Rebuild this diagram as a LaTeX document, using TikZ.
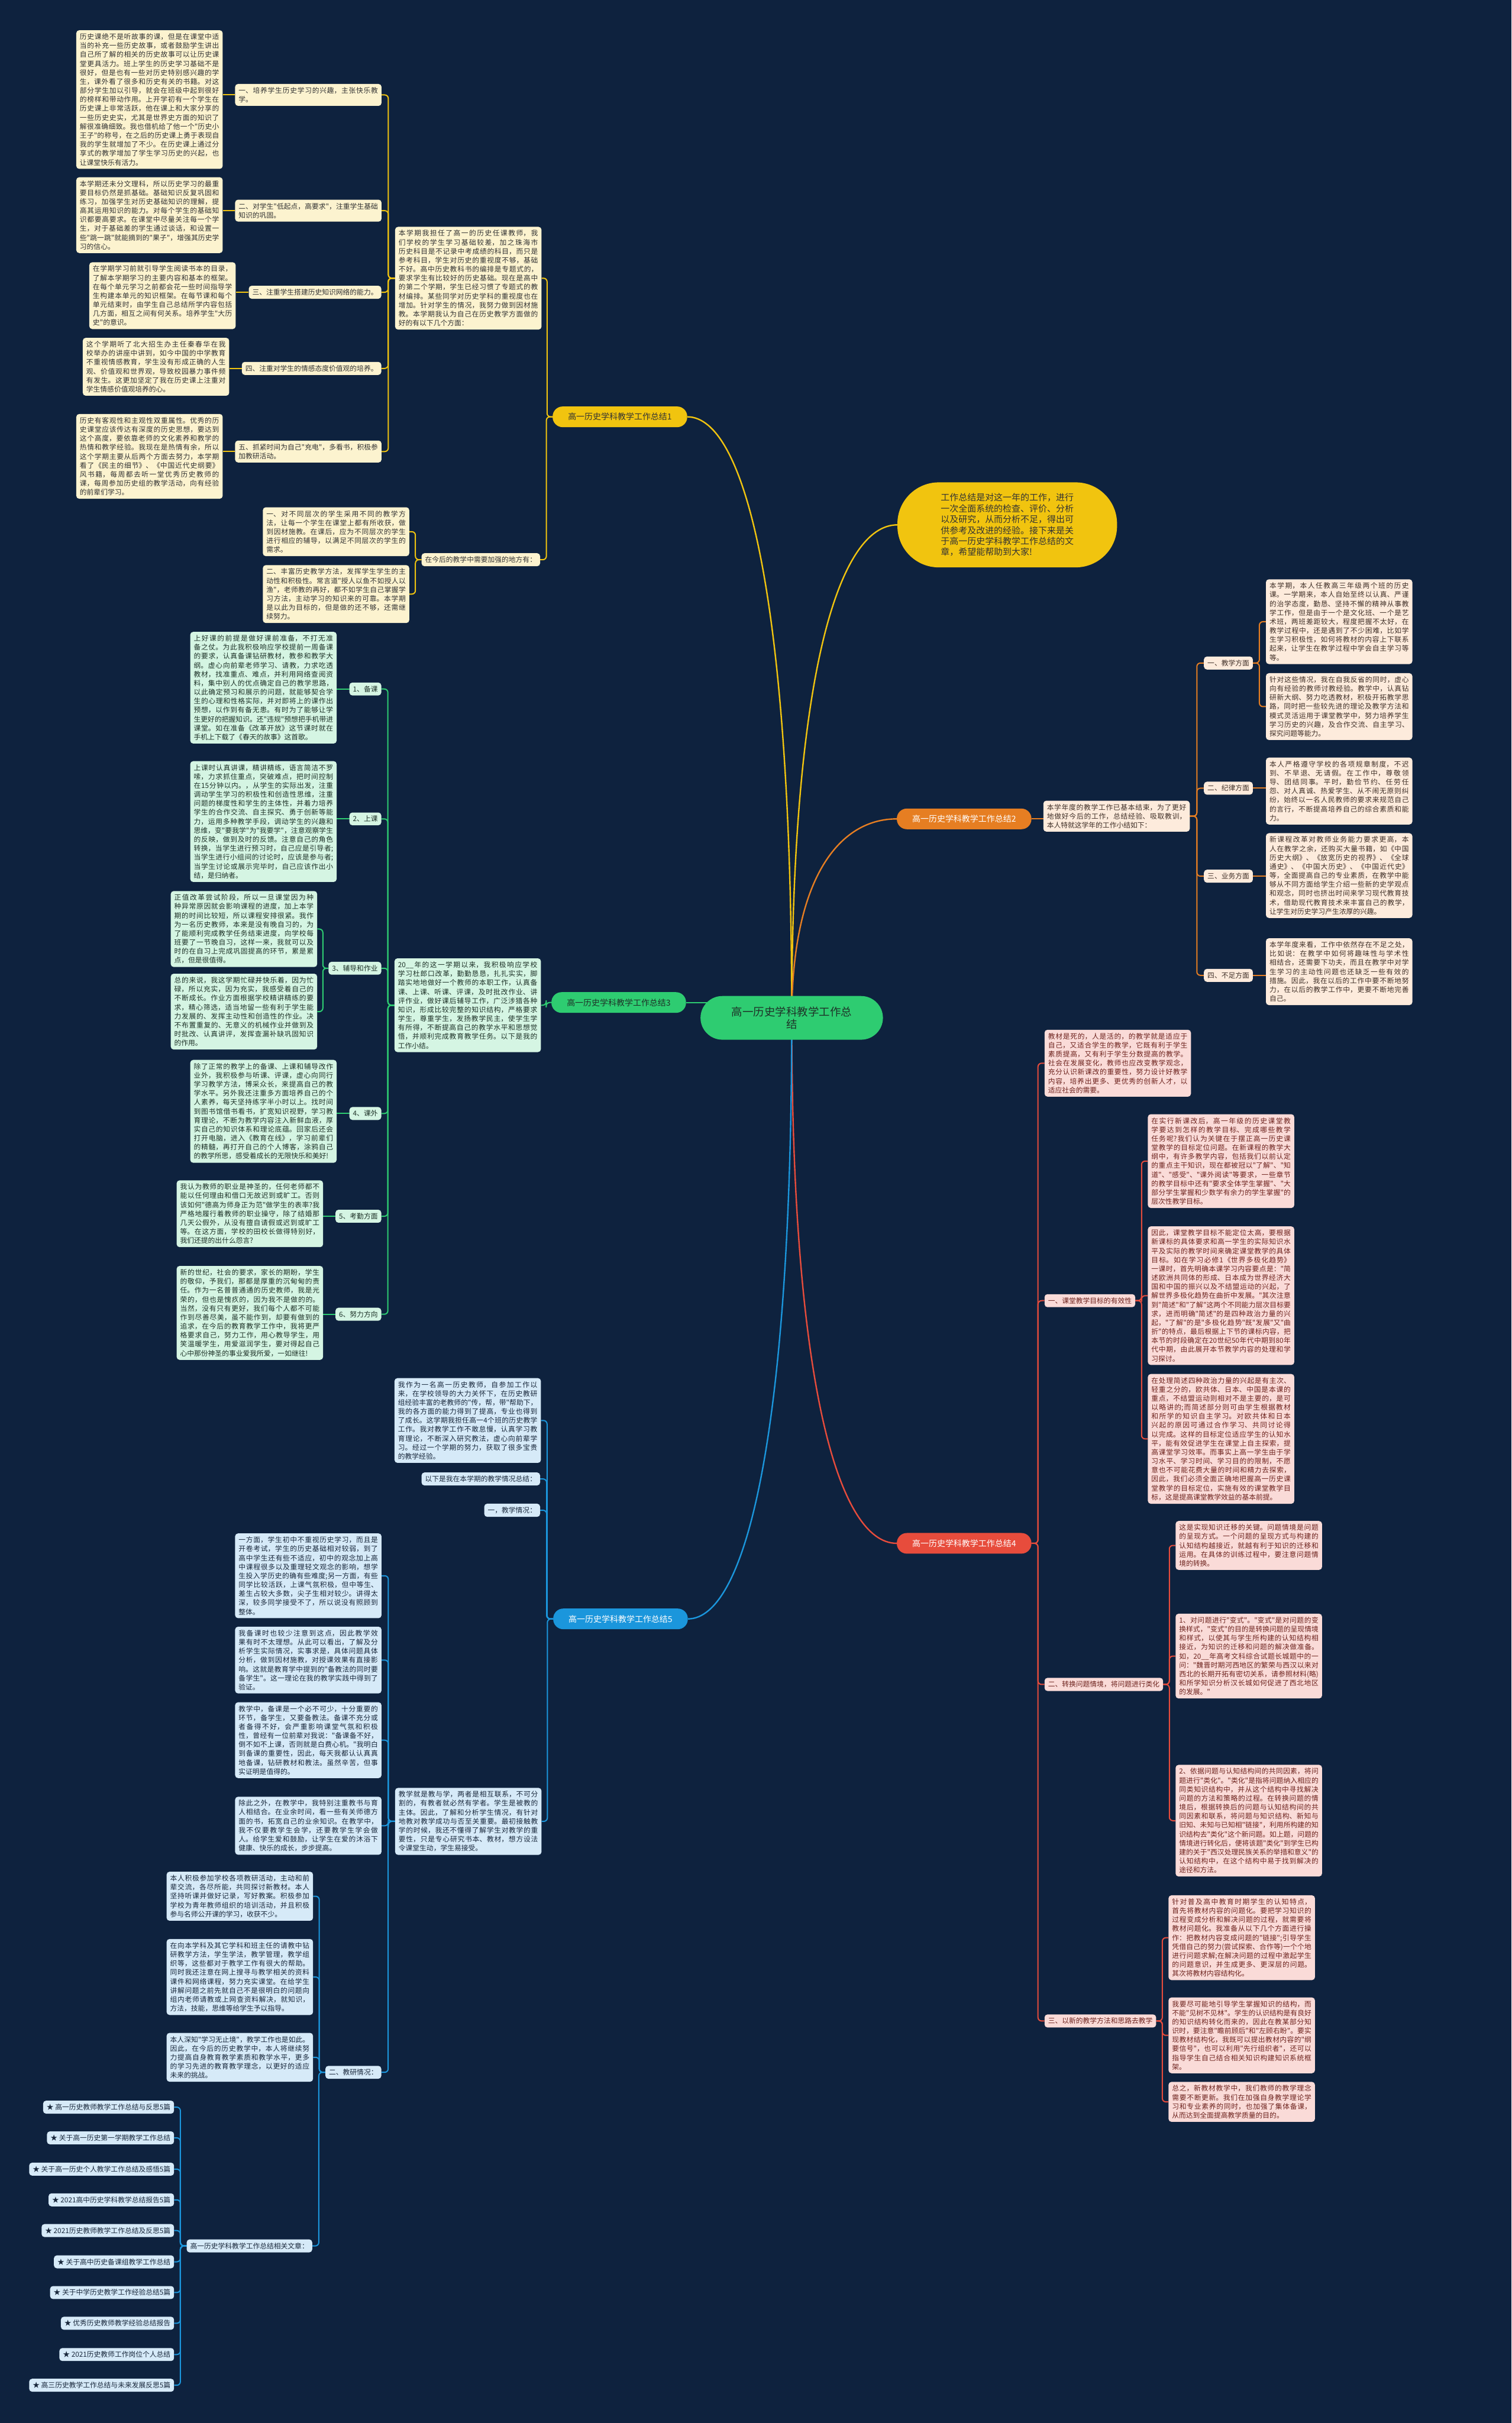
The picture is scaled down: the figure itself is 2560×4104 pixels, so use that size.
\documentclass[tikz,border=0pt]{standalone}
\usepackage{fontspec}
\newfontfamily\cjk{Noto Sans CJK SC}
\usetikzlibrary{calc}
\XeTeXlinebreaklocale "zh"
\XeTeXlinebreakskip=0pt plus 1.5pt
\tolerance=10000
\hbadness=10000
\hfuzz=20pt
\pgfdeclarelayer{bgl}
\pgfdeclarelayer{edges}
\pgfsetlayers{bgl,edges,main}
\definecolor{bgc}{RGB}{14,34,62}
\definecolor{cy}{RGB}{241,196,15}
\definecolor{co}{RGB}{230,126,34}
\definecolor{cg}{RGB}{46,204,113}
\definecolor{cr}{RGB}{231,76,60}
\definecolor{cb}{RGB}{27,150,220}
\definecolor{fy}{RGB}{252,243,207}
\definecolor{fo}{RGB}{253,235,220}
\definecolor{fg}{RGB}{213,245,227}
\definecolor{fr}{RGB}{250,219,216}
\definecolor{fb}{RGB}{214,234,248}
\definecolor{ty}{RGB}{51,51,51}
\definecolor{to}{RGB}{64,48,40}
\definecolor{tg}{RGB}{30,50,40}
\definecolor{tr}{RGB}{110,35,30}
\definecolor{tb}{RGB}{25,40,60}
\tikzset{
  txt/.style={font={\cjk\fontsize{11.8}{15.2}\selectfont}},
  box/.style={txt, rounded corners=5pt, inner xsep=6pt, inner ysep=5.5pt},
  para/.style={box, text width=236pt, align=justify, anchor=north west},
  Y/.style={fill=fy, text=ty},
  O/.style={fill=fo, text=to},
  G/.style={fill=fg, text=tg},
  R/.style={fill=fr, text=tr},
  B/.style={fill=fb, text=tb},
  pill/.style={font={\cjk\fontsize{14}{16}\selectfont}, rounded corners=17pt, minimum width=228pt, minimum height=35pt, inner sep=3pt},
  hub/.style={font={\cjk\fontsize{18.5}{21}\selectfont}, fill=cg, text=tg, rounded corners=37pt, minimum width=309pt, minimum height=74pt, align=center},
  introbox/.style={font={\cjk\fontsize{15}{18.5}\selectfont}, fill=cy, text=ty, rounded corners=70pt, minimum width=372pt, minimum height=144pt, text width=225pt, align=justify},
  eY/.style={draw=cy, line width=2pt, rounded corners=6pt},
  eO/.style={draw=co, line width=2pt, rounded corners=6pt},
  eG/.style={draw=cg, line width=2pt, rounded corners=6pt},
  eR/.style={draw=cr, line width=2pt, rounded corners=6pt},
  eB/.style={draw=cb, line width=2pt, rounded corners=6pt},
  cv/.style={line width=2.4pt}
}
\newcommand\mmlink[3]{\draw[#1] (#2) -| ($(#2)!0.5!(#3)$) |- (#3);}
\newcommand\mmstraight[3]{\draw[#1] (#2) -- (#2 -| #3);}
\newcommand\mmcurve[3]{\coordinate (tmpk) at (#2 |- #3); \draw[#1] (#2) .. controls ($(#2)!0.7!(tmpk)$) and ($(#3)!0.55!(tmpk)$) .. (#3);}
\begin{document}
\begin{tikzpicture}[x=1pt,y=-1pt]
\begin{pgfonlayer}{bgl}
\fill[bgc] (0,0) rectangle (2560,4104);
\end{pgfonlayer}
\useasboundingbox (0,0) rectangle (2560,4104);

% ---------- centre and branches
\node[hub] (c) at (1341,1724) {高一历史学科教学工作总\\结};
\node[introbox] (intro) at (1706,889) {工作总结是对这一年的工作，进行一次全面系统的检查、评价、分析以及研究，从而分析不足，得出可供参考及改进的经验。接下来是关于高一历史学科教学工作总结的文章，希望能帮助到大家!};
\node[pill, fill=cy, text=ty] (b1) at (1050,706) {高一历史学科教学工作总结1};
\node[pill, fill=co, text=white] (b2) at (1633,1387) {高一历史学科教学工作总结2};
\node[pill, fill=cg, text=tg] (b3) at (1048,1698) {高一历史学科教学工作总结3};
\node[pill, fill=cr, text=white] (b4) at (1633,2614) {高一历史学科教学工作总结4};
\node[pill, fill=cb, text=white] (b5) at (1051,2742) {高一历史学科教学工作总结5};

% ---------- branch 1
\node[para,Y] (b1p1) at (129,51) {历史课绝不是听故事的课，但是在课堂中适当的补充一些历史故事，或者鼓励学生讲出自己所了解的相关的历史故事可以让历史课堂更具活力。班上学生的历史学习基础不是很好，但是也有一些对历史特别感兴趣的学生，课外看了很多和历史有关的书籍。对这部分学生加以引导，就会在班级中起到很好的榜样和带动作用。上开学初有一个学生在历史课上非常活跃，他在课上和大家分享的一些历史史实，尤其是世界史方面的知识了解很准确细致。我也借机给了他一个"历史小王子"的称号，在之后的历史课上勇于表现自我的学生就增加了不少。在历史课上通过分享式的教学增加了学生学习历史的兴起，也让课堂快乐有活力。};
\node[para,Y] (b1p2) at (129,300) {本学期还未分文理科，所以历史学习的最重要目标仍然是抓基础。基础知识反复巩固和练习，加强学生对历史基础知识的理解，提高其运用知识的能力。对每个学生的基础知识都要高要求。在课堂中尽量关注每一个学生，对于基础差的学生通过谈话，和设置一些"跳一跳"就能摘到的"果子"，增强其历史学习的信心。};
\node[para,Y] (b1p3) at (151,444) {在学期学习前就引导学生阅读书本的目录，了解本学期学习的主要内容和基本的框架。在每个单元学习之前都会花一些时间指导学生构建本单元的知识框架。在每节课和每个单元结束时，由学生自己总结所学内容包括几方面，相互之间有何关系。培养学生"大历史"的意识。};
\node[para,Y] (b1p4) at (140,572) {这个学期听了北大招生办主任秦春华在我校举办的讲座中讲到，如今中国的中学教育不重视情感教育，学生没有形成正确的人生观、价值观和世界观，导致校园暴力事件频有发生。这更加坚定了我在历史课上注重对学生情感价值观培养的心。};
\node[para,Y] (b1p5) at (129,701) {历史有客观性和主观性双重属性。优秀的历史课堂应该传达有深度的历史思想，要达到这个高度，要依靠老师的文化素养和教学的热情和教学经验。我现在是热情有余，所以这个学期主要从后两个方面去努力，本学期看了《民主的细节》、《中国近代史纲要》风书籍，每周都去听一堂优秀历史教师的课，每周参加历史组的教学活动，向有经验的前辈们学习。};
\node[para,Y] (b1i1) at (398,142) {一、培养学生历史学习的兴趣，主张快乐教学。};
\node[para,Y] (b1i2) at (398,338) {二、对学生"低起点，高要求"，注重学生基础知识的巩固。};
\node[box,Y,anchor=east] (b1i3) at (646,495) {三、注重学生搭建历史知识网络的能力。};
\node[box,Y,anchor=east] (b1i4) at (646,624) {四、注重对学生的情感态度价值观的培养。};
\node[para,Y] (b1i5) at (398,746) {五、抓紧时间为自己"充电"，多看书，积极参加教研活动。};
\node[para,Y] (b1s) at (669,384) {本学期我担任了高一的历史任课教师，我们学校的学生学习基础较差，加之珠海市历史科目是不记录中考成绩的科目，而只是参考科目，学生对历史的重视度不够，基础不好。高中历史教科书的编排是专题式的，要求学生有比较好的历史基础。现在是高中的第二个学期，学生已经习惯了专题式的教材编排。某些同学对历史学科的重视度也在增加。针对学生的情况，我努力做到因材施教。本学期我认为自己在历史教学方面做的好的有以下几个方面：};
\node[box,Y,anchor=east] (b1f) at (915,948) {在今后的教学中需要加强的地方有：};
\node[para,Y] (b1f1) at (445,859) {一、对不同层次的学生采用不同的教学方法，让每一个学生在课堂上都有所收获，做到因材施教。在课后，应为不同层次的学生进行相应的辅导，以满足不同层次的学生的需求。};
\node[para,Y] (b1f2) at (445,957) {二、丰富历史教学方法，发挥学生学生的主动性和积极性。常言道"授人以鱼不如授人以渔"，老师教的再好，都不如学生自己掌握学习方法，主动学习的知识来的可靠。本学期是以此为目标的，但是做的还不够，还需继续努力。};

% ---------- branch 2
\node[para,O] (b2i) at (1767,1356) {本学年度的教学工作已基本结束，为了更好地做好今后的工作，总结经验、吸取教训，本人特就这学年的工作小结如下：};
\node[box,O,anchor=west] (b2l1) at (2039,1123) {一、教学方面};
\node[box,O,anchor=west] (b2l2) at (2039,1335) {二、纪律方面};
\node[box,O,anchor=west] (b2l3) at (2039,1484) {三、业务方面};
\node[box,O,anchor=west] (b2l4) at (2039,1652) {四、不足方面};
\node[para,O] (b2p1) at (2144,981) {本学期，本人任教高三年级两个班的历史课。一学期来，本人自始至终以认真、严谨的治学态度，勤恳、坚持不懈的精神从事教学工作，但是由于一个是文化班、一个是艺术班，两班差距较大，程度把握不太好，在教学过程中，还是遇到了不少困难，比如学生学习积极性，如何将教材的内容上下联系起来，让学生在教学过程中学会自主学习等等。};
\node[para,O] (b2p2) at (2144,1140) {针对这些情况，我在自我反省的同时，虚心向有经验的教师讨教经验。教学中，认真钻研新大纲、努力吃透教材，积极开拓教学思路，同时把一些较先进的理论及教学方法和模式灵活运用于课堂教学中，努力培养学生学习历史的兴趣，及合作交流、自主学习、探究问题等能力。};
\node[para,O] (b2p3) at (2144,1283) {本人严格遵守学校的各项规章制度，不迟到、不早退、无请假。在工作中，尊敬领导、团结同事。平时，勤俭节约、任劳任怨、对人真诚、热爱学生、从不闹无原则纠纷，始终以一名人民教师的要求来规范自己的言行，不断提高培养自己的综合素质和能力。};
\node[para,O] (b2p4) at (2144,1411) {新课程改革对教师业务能力要求更高，本人在教学之余，还购买大量书籍，如《中国历史大纲》、《放宽历史的视界》、《全球通史》、《中国大历史》、《中国近代史》等，全面提高自己的专业素质，在教学中能够从不同方面给学生介绍一些新的史学观点和观念，同时也挤出时间来学习现代教育技术，借助现代教育技术来丰富自己的教学，让学生对历史学习产生浓厚的兴趣。};
\node[para,O] (b2p5) at (2144,1589) {本学年度来看，工作中依然存在不足之处，比如说：在教学中如何将趣味性与学术性相结合，还需要下功夫，而且在教学中对学生学习的主动性问题也还缺乏一些有效的措施。因此，我在以后的工作中要不断地努力，在以后的教学工作中，更要不断地完善自己。};

% ---------- branch 3
\node[para,G] (b3s) at (668,1623) {20\_\_年的这一学期以来，我积极响应学校学习杜郎口改革，勤勤恳恳，扎扎实实，脚踏实地地做好一个教师的本职工作，认真备课、上课、听课、评课，及时批改作业、讲评作业，做好课后辅导工作，广泛涉猎各种知识，形成比较完整的知识结构，严格要求学生，尊重学生，发扬教学民主，使学生学有所得，不断提高自己的教学水平和思想觉悟，并顺利完成教育教学任务。以下是我的工作小结。};
\node[box,G,anchor=east] (b3l1) at (646,1167) {1、备课};
\node[box,G,anchor=east] (b3l2) at (646,1387) {2、上课};
\node[box,G,anchor=east] (b3l3) at (646,1640) {3、辅导和作业};
\node[box,G,anchor=east] (b3l4) at (646,1886) {4、课外};
\node[box,G,anchor=east] (b3l5) at (646,2060) {5、考勤方面};
\node[box,G,anchor=east] (b3l6) at (646,2226) {6、努力方向};
\node[para,G] (b3p1) at (322,1070) {上好课的前提是做好课前准备，不打无准备之仗。为此我积极响应学校提前一周备课的要求，认真备课钻研教材，教参和教学大纲。虚心向前辈老师学习、请教，力求吃透教材，找准重点、难点，并利用网络查阅资料，集中别人的优点确定自己的教学思路，以此确定预习和展示的问题，就能够契合学生的心理和性格实际，并对即将上的课作出预想，以作到有备无患。有时为了能够让学生更好的把握知识。还"违规"预想把手机带进课堂。如在准备《改革开放》这节课时就在手机上下载了《春天的故事》这首歌。};
\node[para,G] (b3p2) at (322,1289) {上课时认真讲课，精讲精练，语言简洁不罗嗦，力求抓住重点，突破难点，把时间控制在15分钟以内。，从学生的实际出发，注重调动学生学习的积极性和创造性思维，注重问题的梯度性和学生的主体性，并着力培养学生的合作交流、自主探究、勇于创新等能力，运用多种教学手段，调动学生的兴趣和思维，变"要我学"为"我要学"，注意观察学生的反映，做到及时的反馈。注意自己的角色转换，当学生进行预习时，自己应是引导者;当学生进行小组间的讨论时，应该是参与者;当学生讨论或展示完毕时，自己应该作出小结，是归纳者。};
\node[para,G] (b3p3) at (289,1509) {正值改革尝试阶段，所以一旦课堂因为种种异常原因就会影响课程的进度，加上本学期的时间比较短，所以课程安排很紧。我作为一名历史教师，本来是没有晚自习的，为了能顺利完成教学任务结束进度，向学校每班要了一节晚自习，这样一来，我就可以及时的在自习上完成巩固提高的环节，累是累点，但是很值得。};
\node[para,G] (b3p4) at (289,1649) {总的来说，我这学期忙碌并快乐着，因为忙碌，所以充实，因为充实，我感受着自己的不断成长。作业方面根据学校精讲精练的要求，精心筛选，适当地留一些有利于学生能力发展的、发挥主动性和创造性的作业。决不布置重复的、无意义的机械作业并做到及时批改、认真讲评，发挥查漏补缺巩固知识的作用。};
\node[para,G] (b3p5) at (322,1795) {除了正常的教学上的备课、上课和辅导改作业外，我积极参与听课、评课，虚心向同行学习教学方法，博采众长，来提高自己的教学水平。另外我还注重多方面培养自己的个人素养，每天坚持练字半小时以上。找时间到图书馆借书看书，扩宽知识视野，学习教育理论，不断为教学内容注入新鲜血液，厚实自己的知识体系和理论底蕴。回家后还会打开电脑，进入《教育在线》，学习前辈们的精髓，再打开自己的个人博客，涂鸦自己的教学所思，感受着成长的无限快乐和美好!};
\node[para,G] (b3p6) at (299,1999) {我认为教师的职业是神圣的，任何老师都不能以任何理由和借口无故迟到或旷工。否则该如何"德高为师身正为范"做学生的表率?我严格地履行着教师的职业操守，除了结婚那几天公假外，从没有擅自请假或迟到或旷工等。在这方面，学校的田校长做得特别好，我们还提的出什么怨言?};
\node[para,G] (b3p7) at (299,2144) {新的世纪，社会的要求，家长的期盼，学生的敬仰，予我们，那都是厚重的沉甸甸的责任。作为一名普普通通的历史教师，我是光荣的，但也是愧疚的，因为我不是做的的。当然，没有只有更好，我们每个人都不可能作到尽善尽美，虽不能作到，却要有做到的追求，在今后的教育教学工作中，我将更严格要求自己，努力工作，用心教导学生，用笑温暖学生，用爱滋润学生，要对得起自己心中那份神圣的事业爱我所爱，一如继往!};

% ---------- branch 4
\node[para,R] (b4p0) at (1769,1744) {教材是死的，人是活的，的教学就是适应于自己，又适合学生的教学，它既有利于学生素质提高，又有利于学生分数提高的教学。社会在发展变化，教师也应改变教学观念，充分认识新课改的重要性，努力设计好教学内容，培养出更多、更优秀的创新人才，以适应社会的需要。};
\node[box,R,anchor=west] (b4l1) at (1769,2203) {一、课堂教学目标的有效性};
\node[para,R] (b4a1) at (1944,1887) {在实行新课改后，高一年级的历史课堂教学要达到怎样的教学目标、完成哪些教学任务呢?我们认为关键在于摆正高一历史课堂教学的目标定位问题。在新课程的教学大纲中，有许多教学内容，包括我们以前认定的重点主干知识，现在都被冠以"了解"、"知道"、"感受"、"课外阅读"等要求，一些章节的教学目标中还有"要求全体学生掌握"、"大部分学生掌握和少数学有余力的学生掌握"的层次性教学目标。};
\node[para,R] (b4a2) at (1944,2077) {因此，课堂教学目标不能定位太高，要根据新课标的具体要求和高一学生的实际知识水平及实际的教学时间来确定课堂教学的具体目标。如在学习必修1《世界多极化趋势》一课时，首先明确本课学习内容要点是："简述欧洲共同体的形成、日本成为世界经济大国和中国的振兴以及不结盟运动的兴起，了解世界多极化趋势在曲折中发展。"其次注意到"简述"和"了解"这两个不同能力层次目标要求，进而明确"简述"的是四种政治力量的兴起，"了解"的是"多极化趋势"既"发展"又"曲折"的特点，最后根据上下节的课标内容，把本节的时段确定在20世纪50年代中期到80年代中期，由此展开本节教学内容的处理和学习探讨。};
\node[para,R] (b4a3) at (1944,2327) {在处理简述四种政治力量的兴起是有主次、轻重之分的，欧共体、日本、中国是本课的重点，不结盟运动则相对不是主要的，是可以略讲的;而简述部分则可由学生根据教材和所学的知识自主学习。对欧共体和日本兴起的原因可通过合作学习、共同讨论得以完成。这样的目标定位适应学生的认知水平，能有效促进学生在课堂上自主探索，提高课堂学习效率。而事实上高一学生由于学习水平、学习时间、学习目的的限制，不愿意也不可能花费大量的时间和精力去探索，因此，我们必须全面正确地把握高一历史课堂教学的目标定位，实施有效的课堂教学目标，这是提高课堂教学效益的基本前提。};
\node[box,R,anchor=west] (b4l2) at (1769,2853) {二、转换问题情境，将问题进行类化};
\node[para,R] (b4b1) at (1991,2576) {这是实现知识迁移的关键。问题情境是问题的呈现方式。一个问题的呈现方式与构建的认知结构越接近，就越有利于知识的迁移和运用。在具体的训练过程中，要注意问题情境的转换。};
\node[para,R] (b4b2) at (1991,2733) {1、对问题进行"变式"。"变式"是对问题的变换样式，"变式"的目的是转换问题的呈现情境和样式，以使其与学生所构建的认知结构相接近，为知识的迁移和问题的解决做准备。如，20\_\_年高考文科综合试题长城题中的一问："魏晋时期河西地区的繁荣与西汉以来对西北的长期开拓有密切关系，请参照材料(略)和所学知识分析汉长城如何促进了西北地区的发展。"};
\node[para,R] (b4b3) at (1991,2989) {2、依据问题与认知结构间的共同因素，将问题进行"类化"。"类化"是指将问题纳入相应的同类知识结构中，并从这个结构中寻找解决问题的方法和策略的过程。在转换问题的情境后，根据转换后的问题与认知结构间的共同因素和联系，将问题与知识结构、新知与旧知、未知与已知相"链接"，利用所构建的知识结构去"类化"这个新问题。如上题，问题的情境进行转化后，便将该题"类化"到学生已构建的关于"西汉处理民族关系的举措和意义"的认知结构中，在这个结构中易于找到解决的途径和方法。};
\node[box,R,anchor=west] (b4l3) at (1769,3423) {三、以新的教学方法和思路去教学};
\node[para,R] (b4c1) at (1979,3210) {针对普及高中教育时期学生的认知特点，首先将教材内容的问题化。要把学习知识的过程变成分析和解决问题的过程，就需要将教材问题化。我准备从以下几个方面进行操作：把教材内容变成问题的"链接";引导学生凭借自己的努力(尝试探索、合作等)一个个地进行问题求解;在解决问题的过程中激起学生的问题意识，并生成更多、更深层的问题。其次将教材内容结构化。};
\node[para,R] (b4c2) at (1979,3383) {我要尽可能地引导学生掌握知识的结构，而不能"见树不见林"。学生的认识结构是有良好的知识结构转化而来的，因此在教某部分知识时，要注意"瞻前顾后"和"左顾右盼"。要实现教材结构化，我既可以提出教材内容的"纲要信号"，也可以利用"先行组织者"，还可以指导学生自己结合相关知识构建知识系统框架。};
\node[para,R] (b4c3) at (1979,3526) {总之，新教材教学中，我们教师的教学理念需要不断更新。我们在加强自身教学理论学习和专业素养的同时，也加强了集体备课，从而达到全面提高教学质量的目的。};

% ---------- branch 5
\node[para,B] (b5p1) at (668,2334) {我作为一名高一历史教师，自参加工作以来，在学校领导的大力关怀下，在历史教研组经验丰富的老教师的"传，帮，带"帮助下，我的各方面的能力得到了提高，专业也得到了成长。这学期我担任高一4个班的历史教学工作。我对教学工作不敢怠慢，认真学习教育理论，不断深入研究教法，虚心向前辈学习。经过一个学期的努力，获取了很多宝贵的教学经验。};
\node[box,B,anchor=east] (b5l1) at (915,2505) {以下是我在本学期的教学情况总结：};
\node[box,B,anchor=east] (b5l2) at (915,2558) {一，教学情况：};
\node[para,B] (b5t) at (669,3028) {教学就是教与学，两者是相互联系，不可分割的，有教者就必然有学者。学生是被教的主体。因此，了解和分析学生情况，有针对地教对教学成功与否至关重要。最初接触教学的时候，我还不懂得了解学生对教学的重要性，只是专心研究书本、教材，想方设法令课堂生动，学生易接受。};
\node[para,B] (b5q1) at (398,2597) {一方面，学生初中不重视历史学习，而且是开卷考试，学生的历史基础相对较弱，到了高中学生还有些不适应，初中的观念加上高中课程很多以及重理轻文观念的影响，想学生投入学历史的确有些难度;另一方面，有些同学比较活跃，上课气氛积极，但中等生、差生占较大多数，尖子生相对较少。讲得太深，较多同学接受不了，所以说没有照顾到整体。};
\node[para,B] (b5q2) at (398,2755) {我备课时也较少注意到这点，因此教学效果有时不太理想。从此可以看出，了解及分析学生实际情况，实事求是，具体问题具体分析，做到因材施教，对授课效果有直接影响。这就是教育学中提到的"备教法的同时要备学生"。这一理论在我的教学实践中得到了验证。};
\node[para,B] (b5q3) at (398,2883) {教学中，备课是一个必不可少，十分重要的环节，备学生，又要备教法。备课不充分或者备得不好，会严重影响课堂气氛和积极性，曾经有一位前辈对我说："备课备不好，倒不如不上课，否则就是白费心机。"我明白到备课的重要性，因此，每天我都认认真真地备课，钻研教材和教法。虽然辛苦，但事实证明是值得的。};
\node[para,B] (b5q4) at (398,3043) {除此之外，在教学中，我特别注重教书与育人相结合。在业余时间，看一些有关师德方面的书，拓宽自己的业余知识。在教学中，我不仅要教学生会学，还要教学生学会做人。给学生爱和鼓励，让学生在爱的沐浴下健康、快乐的成长，步步提高。};
\node[box,B,anchor=east] (b5e) at (646,3510) {二、教研情况：};
\node[para,B] (b5e1) at (282,3170) {本人积极参加学校各项教研活动，主动和前辈交流，各尽所能，共同探讨新教材。本人坚持听课并做好记录，写好教案。积极参加学校为青年教师组织的培训活动，并且积极参与名师公开课的学习，收获不少。};
\node[para,B] (b5e2) at (282,3284) {在向本学科及其它学科和班主任的请教中钻研教学方法，学生学法，教学管理，教学组织等，这些都对于教学工作有很大的帮助。同时我还注意在网上搜寻与教学相关的资料课件和网络课程，努力充实课堂。在给学生讲解问题之前先就自己不是很明白的问题向组内老师请教或上网查资料解决，就知识，方法，技能，思维等给学生予以指导。};
\node[para,B] (b5e3) at (282,3443) {本人深知"学习无止境"，教学工作也是如此。因此，在今后的历史教学中，本人将继续努力提高自身教育教学素质和教学水平，更多的学习先进的教育教学理念，以更好的适应未来的挑战。};
\node[box,B,anchor=east] (b5r) at (529,3804) {高一历史学科教学工作总结相关文章：};
\foreach \ty/\tt [count=\ti] in {
  3569/高一历史教师教学工作总结与反思5篇,
  3621/关于高一历史第一学期教学工作总结,
  3674/关于高一历史个人教学工作总结及感悟5篇,
  3726/2021高中历史学科教学总结报告5篇,
  3778/2021历史教师教学工作总结及反思5篇,
  3831/关于高中历史备课组教学工作总结,
  3883/关于中学历史教学工作经验总结5篇,
  3935/优秀历史教师教学经验总结报告,
  3988/2021历史教师工作岗位个人总结,
  4040/高三历史教学工作总结与未来发展反思5篇}
  \node[box,B,anchor=east] (s\ti) at (295,\ty) {★ \tt};

% ---------- connectors
\begin{pgfonlayer}{edges}
\mmcurve{cy,cv}{c.center}{b1.east}
\mmcurve{cy,cv}{c.center}{intro.west}
\mmcurve{co,cv}{c.center}{b2.west}
\mmcurve{cr,cv}{c.center}{b4.west}
\mmcurve{cb,cv}{c.center}{b5.east}
\draw[cg,cv] (b3.east) -- (b3.east -| c.center);
% branch 1
\mmlink{eY}{b1.west}{b1s.east}
\mmlink{eY}{b1.west}{b1f.east}
\foreach \k in {1,...,5}{\mmlink{eY}{b1s.west}{b1i\k.east}}
\foreach \k in {1,...,5}{\mmstraight{eY}{b1i\k.west}{b1p\k.east}}
\mmlink{eY}{b1f.west}{b1f1.east}
\mmlink{eY}{b1f.west}{b1f2.east}
% branch 2
\mmstraight{eO}{b2.east}{b2i.west}
\foreach \k in {1,...,4}{\mmlink{eO}{b2i.east}{b2l\k.west}}
\mmlink{eO}{b2l1.east}{b2p1.west}
\mmlink{eO}{b2l1.east}{b2p2.west}
\mmstraight{eO}{b2l2.east}{b2p3.west}
\mmstraight{eO}{b2l3.east}{b2p4.west}
\mmstraight{eO}{b2l4.east}{b2p5.west}
% branch 3
\mmlink{eG}{b3.west}{b3s.east}
\foreach \k in {1,...,6}{\mmlink{eG}{b3s.west}{b3l\k.east}}
\mmstraight{eG}{b3l1.west}{b3p1.east}
\mmstraight{eG}{b3l2.west}{b3p2.east}
\mmlink{eG}{b3l3.west}{b3p3.east}
\mmlink{eG}{b3l3.west}{b3p4.east}
\mmstraight{eG}{b3l4.west}{b3p5.east}
\mmstraight{eG}{b3l5.west}{b3p6.east}
\mmstraight{eG}{b3l6.west}{b3p7.east}
% branch 4
\mmlink{eR}{b4.east}{b4p0.west}
\foreach \k in {1,2,3}{\mmlink{eR}{b4.east}{b4l\k.west}}
\foreach \k in {1,2,3}{\mmlink{eR}{b4l1.east}{b4a\k.west}}
\foreach \k in {1,2,3}{\mmlink{eR}{b4l2.east}{b4b\k.west}}
\foreach \k in {1,2,3}{\mmlink{eR}{b4l3.east}{b4c\k.west}}
% branch 5
\mmlink{eB}{b5.west}{b5p1.east}
\mmlink{eB}{b5.west}{b5l1.east}
\mmlink{eB}{b5.west}{b5l2.east}
\mmlink{eB}{b5.west}{b5t.east}
\foreach \k in {1,...,4}{\mmlink{eB}{b5t.west}{b5q\k.east}}
\mmlink{eB}{b5t.west}{b5e.east}
\foreach \k in {1,2,3}{\mmlink{eB}{b5e.west}{b5e\k.east}}
\mmlink{eB}{b5e.west}{b5r.east}
\foreach \k in {1,...,10}{\mmlink{eB}{b5r.west}{s\k.east}}
\end{pgfonlayer}
\end{tikzpicture}
\end{document}
